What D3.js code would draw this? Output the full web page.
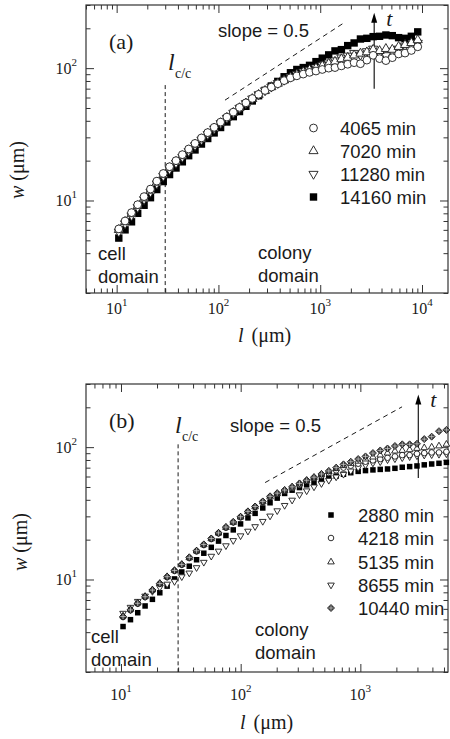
<!DOCTYPE html>
<html>
<head>
<meta charset="utf-8">
<script src="https://cdn.jsdelivr.net/npm/d3@7"></script>
<style>
  html, body { margin: 0; padding: 0; background: #fff; }
  svg { display: block; }
  .sans { font-family: "Liberation Sans", Arial, Helvetica, sans-serif; fill: #1a1a1a; }
  .serif { font-family: "Liberation Serif", "Times New Roman", Times, serif; fill: #1a1a1a; }
</style>
</head>
<body>
<svg id="chart" width="450" height="739"></svg>
<script>
// ---------- Panel (a): interface width w versus window size l ----------
const lA = [10.5, 12.1, 14.0, 16.1, 18.6, 21.5, 24.8, 28.7, 33.1, 38.3,
            44.2, 51.0, 58.9, 68.1, 78.5, 90.8, 105, 121, 140, 161,
            186, 215, 248, 287, 331, 383, 442, 510, 589, 681,
            785, 908, 1047, 1211, 1396, 1614, 1862, 2153, 2483, 2871,
            3311, 3828, 4416, 5105, 5888, 6808, 7852, 9078];
const wA4065 = [6.1, 7.0, 8.1, 9.3, 10.7, 12.2, 14.0, 16.0, 18.0, 20.0,
                22.2, 24.5, 27.0, 29.7, 32.6, 35.7, 39.1, 42.7, 46.5, 50.5,
                54.7, 59.0, 63.4, 67.8, 71.9, 76.2, 80.5, 84.5, 87.5, 90.2,
                92.9, 95.1, 97.7, 100, 101, 104, 107, 110, 108, 115,
                125, 118, 114, 120, 128, 130, 136, 145];
const wA7020 = [6.0, 6.9, 7.9, 9.1, 10.4, 11.9, 13.7, 15.6, 17.6, 19.6,
                21.7, 24.0, 26.5, 29.1, 32.0, 35.1, 38.5, 42.2, 46.0, 50.0,
                54.2, 58.6, 63.0, 67.5, 72.0, 76.5, 81.0, 85.5, 89.5, 93.5,
                97.0, 100, 104, 108, 112, 117, 120, 125, 129, 132,
                138, 135, 140, 138, 145, 150, 155, 163];
const wA11280 = [5.8, 6.7, 7.7, 8.9, 10.2, 11.6, 13.4, 15.3, 17.2, 19.2,
                 21.3, 23.6, 26.1, 28.8, 31.7, 34.9, 38.3, 42.0, 45.9, 50.0,
                 54.3, 58.8, 63.3, 67.8, 72.3, 77.0, 81.5, 86, 90, 94,
                 97, 101, 105, 110, 114, 120, 124, 130, 126, 134,
                 140, 130, 125, 135, 140, 148, 150, 155];
const wA14160 = [5.2, 6.0, 6.9, 8.0, 9.2, 10.5, 12.1, 13.9, 15.7, 17.6,
                 19.6, 21.8, 24.1, 26.7, 29.4, 32.4, 35.6, 39.2, 43.0, 47.0,
                 51.5, 56.5, 61.9, 67.9, 73.3, 79.4, 86.1, 92.3, 97.7, 101,
                 105, 112, 119, 126, 135, 138, 148, 155, 166, 168,
                 173, 174, 178, 176, 170, 168, 174, 188];
const labelsA = ["4065 min", "7020 min", "11280 min", "14160 min"];

// ---------- Panel (b) ----------
const lB = [10.4, 12.0, 13.8, 15.9, 18.3, 21.1, 24.3, 28.0, 32.2, 37.2,
            42.8, 49.2, 56.8, 65.3, 75.3, 86.7, 99.8, 115, 132, 153,
            176, 202, 233, 269, 310, 356, 410, 473, 545, 628,
            723, 832, 959, 1104, 1274, 1466, 1687, 1945, 2239, 2582,
            2972, 3420, 3945, 4539, 5236];
const wB2880 = [4.41, 4.97, 5.61, 6.31, 7.08, 7.94, 8.91, 10.1, 11.4, 12.6,
                14.1, 15.8, 17.5, 19.5, 21.5, 23.7, 26.3, 29.2, 31.6, 34.7,
                38.0, 41.2, 44.7, 47.3, 49.5, 51.9, 54.3, 56.5, 58.6, 60.5,
                62.4, 64.1, 65.6, 66.5, 67.3, 67.9, 68.4, 69.2, 70.5, 71.3,
                72.1, 73.5, 74.6, 75.5, 76.7];
const wB4218 = [5.2, 5.85, 6.55, 7.35, 8.25, 9.25, 10.4, 11.6, 12.9, 14.5,
                16.3, 18.2, 20.2, 22.3, 24.6, 27.0, 29.5, 32.4, 35.2, 38.4,
                41.8, 44.2, 46.6, 49.2, 52.0, 55.6, 58.2, 61.0, 63.8, 66.8,
                70.0, 72.4, 75.0, 77.6, 79.4, 81.3, 83.2, 85.1, 87.1, 87.1,
                89.1, 90.2, 91.2, 91.2, 92.3];
const wB5135 = [5.3, 5.95, 6.65, 7.45, 8.35, 9.35, 10.5, 11.7, 13.0, 14.6,
                16.4, 18.3, 20.3, 22.4, 24.7, 27.0, 29.6, 32.5, 35.4, 38.6,
                42.0, 44.5, 47.0, 49.8, 52.8, 56.0, 58.9, 62.1, 65.3, 68.9,
                72.4, 75.3, 78.2, 81.3, 84.1, 87.1, 90.2, 93.3, 94.4, 95.5,
                97.7, 98.9, 100, 102, 105];
const wB8655 = [5.56, 6.17, 6.84, 7.50, 8.13, 8.71, 9.23, 9.66, 10.5, 11.2,
                12.3, 13.5, 15.0, 16.4, 18.0, 19.7, 21.4, 23.2, 25.1, 27.5,
                30.2, 33.1, 36.3, 39.8, 43.7, 46.8, 50.1, 53.1, 56.2, 59.6,
                62.4, 66.1, 70.0, 73.3, 75.9, 77.6, 80.4, 81.7, 83.2, 84.7,
                86.1, 87.1, 87.7, 88.3, 89.1];
const wB10440 = [5.25, 5.89, 6.61, 7.41, 8.32, 9.33, 10.5, 11.7, 13.0, 14.7,
                 16.5, 18.4, 20.4, 22.5, 24.9, 27.2, 29.8, 32.7, 35.6, 38.9,
                 42.5, 44.9, 47.4, 50.1, 53.2, 56.2, 59.3, 62.7, 66.1, 70.0,
                 74.1, 77.6, 81.3, 85.1, 90.2, 94.4, 97.7, 102, 105, 105,
                 106, 115, 120, 132, 135];
const labelsB = ["2880 min", "4218 min", "5135 min", "8655 min", "10440 min"];

// Annotations (data coordinates)
const lCrossover = 30;                       // l_c/c
const slopeA = { l: [116, 1760], w: [57.3, 223] };
const slopeB = { l: [160, 2230], w: [54, 201.6] };
const arrowA = { l: 3390, w: [70, 262] };
const arrowB = { l: 3050, w: [58.5, 250] };

const svg = d3.select("#chart");
const ink = "#1a1a1a";

// ---------- marker symbols ----------
function marker(g, kind, big) {
  const s = big ? 1 : 0.72;
  if (kind === "circle") {
    g.append("circle").attr("r", 3.9 * s).attr("fill", "#fff").attr("stroke", ink).attr("stroke-width", big ? 0.9 : 0.9);
  } else if (kind === "up" || kind === "down") {
    const p = d3.symbol(d3.symbolTriangle, (big ? 36 : 19))();
    g.append("path").attr("d", p).attr("transform", kind === "down" ? "rotate(180)" : null)
      .attr("fill", "#fff").attr("stroke", ink).attr("stroke-width", 0.9);
  } else if (kind === "square") {
    const a = big ? 7.4 : 5.5;
    g.append("rect").attr("x", -a / 2).attr("y", -a / 2).attr("width", a).attr("height", a).attr("fill", "#000");
  } else if (kind === "diamond") {
    const r = 3.5;
    g.append("path").attr("d", `M0,${-r}L${r},0L0,${r}L${-r},0Z`).attr("fill", "#3a3a3a").attr("stroke", "#111").attr("stroke-width", 0.8);
    g.append("path").attr("d", `M0,${-r + 0.8}V${r - 0.8}M${-r + 0.8},0H${r - 0.8}`).attr("stroke", "#cfcfcf").attr("stroke-width", 0.7);
  }
}

// ---------- panel frame, ticks, labels ----------
function panel(p) {
  const x = d3.scaleLog().domain(p.xDomain).range([p.x0, p.x1]);
  const y = d3.scaleLog().domain([2, 300]).range([p.y1, p.y0]);
  const isMajor = v => Math.abs(Math.log10(v) - Math.round(Math.log10(v))) < 1e-9;
  const xt = x.ticks(), yt = y.ticks();
  const xMaj = xt.filter(isMajor), xMin = xt.filter(v => !isMajor(v));
  const yMaj = yt.filter(isMajor), yMin = yt.filter(v => !isMajor(v));
  const g = svg.append("g");

  const axes = [
    [d3.axisBottom(x), `translate(0,${p.y1})`, xMaj, xMin],
    [d3.axisTop(x), `translate(0,${p.y0})`, xMaj, xMin],
    [d3.axisLeft(y), `translate(${p.x0},0)`, yMaj, yMin],
    [d3.axisRight(y), `translate(${p.x1},0)`, yMaj, yMin]
  ];
  axes.forEach(([ax, tr, maj, min]) => {
    [[maj, 8], [min, 4.5]].forEach(([vals, len]) => {
      const a = g.append("g").attr("transform", tr)
        .call(ax.tickValues(vals).tickSize(-len).tickFormat(""));
      a.select(".domain").remove();
      a.selectAll("line").attr("stroke", "#333").attr("stroke-width", 1);
    });
  });
  g.append("rect").attr("x", p.x0).attr("y", p.y0)
    .attr("width", p.x1 - p.x0).attr("height", p.y1 - p.y0)
    .attr("fill", "none").attr("stroke", "#333").attr("stroke-width", 1.2);

  // decade labels 10^n
  xMaj.forEach(v => {
    const t = g.append("text").attr("class", "serif").attr("x", x(v)).attr("y", p.y1 + p.xLabelGap)
      .attr("text-anchor", "middle").attr("font-size", 16);
    t.append("tspan").text("10");
    t.append("tspan").attr("dy", -8).attr("font-size", 11).text(Math.round(Math.log10(v)));
  });
  yMaj.forEach(v => {
    const t = g.append("text").attr("class", "serif").attr("x", p.x0 - 9).attr("y", y(v) + 6)
      .attr("text-anchor", "end").attr("font-size", 16);
    t.append("tspan").text("10");
    t.append("tspan").attr("dy", -8).attr("font-size", 11).text(Math.round(Math.log10(v)));
  });

  // axis titles
  const xt1 = g.append("text").attr("class", "serif").attr("x", p.xTitle[0]).attr("y", p.xTitle[1]).attr("font-size", 20);
  xt1.append("tspan").attr("font-style", "italic").text("l");
  xt1.append("tspan").attr("dx", 8).text("(μm)");
  const yt1 = g.append("text").attr("class", "serif").attr("font-size", 20)
    .attr("transform", `translate(${p.yTitle[0]},${p.yTitle[1]}) rotate(-90)`);
  yt1.append("tspan").attr("font-style", "italic").text("w");
  yt1.append("tspan").attr("dx", 5).text("(μm)");

  return { g, x, y };
}

function annotate(P, p, a) {
  const { g, x, y } = P;
  // crossover length l_c/c
  g.append("line").attr("x1", x(lCrossover)).attr("x2", x(lCrossover))
    .attr("y1", y(a.lcTop)).attr("y2", p.y1)
    .attr("stroke", ink).attr("stroke-width", 1).attr("stroke-dasharray", "4,3");
  g.append("text").attr("class", "serif").attr("font-style", "italic").attr("font-size", 24)
    .attr("x", a.lc[0]).attr("y", a.lc[1]).text("l");
  g.append("text").attr("class", "serif").attr("font-size", 14)
    .attr("x", a.lc[0] + 7).attr("y", a.lc[1] + 8).text("c/c");
  // slope guide
  g.append("line").attr("x1", x(a.slope.l[0])).attr("y1", y(a.slope.w[0]))
    .attr("x2", x(a.slope.l[1])).attr("y2", y(a.slope.w[1]))
    .attr("stroke", ink).attr("stroke-width", 1).attr("stroke-dasharray", "5,4");
  g.append("text").attr("class", "sans").attr("font-size", 18.5)
    .attr("x", a.slopeText[0]).attr("y", a.slopeText[1]).text("slope = 0.5");
  // time arrow
  const ax = x(a.arrow.l), yb = y(a.arrow.w[0]), ytp = y(a.arrow.w[1]);
  g.append("line").attr("x1", ax).attr("x2", ax).attr("y1", yb).attr("y2", ytp + 8)
    .attr("stroke", ink).attr("stroke-width", 1.2);
  g.append("path").attr("d", `M${ax},${ytp}L${ax - 3},${ytp + 10}L${ax + 3},${ytp + 10}Z`).attr("fill", "#000");
  g.append("text").attr("class", "serif").attr("font-style", "italic").attr("font-size", 22)
    .attr("x", ax + 12).attr("y", ytp + 13).text("t");
  // panel tag and domain names
  g.append("text").attr("class", "serif").attr("font-size", 22)
    .attr("x", a.tag[0]).attr("y", a.tag[1]).text(a.tagText);
  [["cell", a.cell[0], a.cell[1]], ["domain", a.cell[0], a.cell[1] + 23],
   ["colony", a.colony[0], a.colony[1]], ["domain", a.colony[0], a.colony[1] + 23]]
    .forEach(([t, tx, ty]) => g.append("text").attr("class", "sans").attr("font-size", 18.5)
      .attr("x", tx).attr("y", ty).text(t));
}

function series(P, ls, ws, kind, big) {
  ls.forEach((l, i) => {
    const m = P.g.append("g").attr("transform", `translate(${P.x(l)},${P.y(ws[i])})`);
    marker(m, kind, big);
  });
}

function legend(P, items, lx, tx, rows, big) {
  items.forEach(([label, kind], i) => {
    const m = P.g.append("g").attr("transform", `translate(${lx},${rows[i]})`);
    marker(m, kind, big);
    P.g.append("text").attr("class", "sans").attr("font-size", 18.5)
      .attr("x", tx).attr("y", rows[i] + 6.5).text(label);
  });
}

// ----- panel (a) -----
const pA = { x0: 86, x1: 448, y0: 5, y1: 293, xDomain: [5, 18000], xLabelGap: 21, xTitle: [238, 342], yTitle: [24, 199] };
const PA = panel(pA);
annotate(PA, pA, {
  lcTop: 74.5, lc: [168, 70], slope: slopeA, slopeText: [218, 37], arrow: arrowA,
  tag: [109, 49], tagText: "(a)", cell: [98, 260], colony: [258, 259]
});
series(PA, lA, wA14160, "square", true);
series(PA, lA, wA11280, "down", true);
series(PA, lA, wA7020, "up", true);
series(PA, lA, wA4065, "circle", true);
legend(PA, [[labelsA[0], "circle"], [labelsA[1], "up"], [labelsA[2], "down"], [labelsA[3], "square"]],
  313.5, 340, [128, 151, 174, 197], true);

// ----- panel (b) -----
const pB = { x0: 86, x1: 448, y0: 384, y1: 672, xDomain: [5.1, 5400], xLabelGap: 28, xTitle: [240, 729], yTitle: [27, 571] };
const PB = panel(pB);
annotate(PB, pB, {
  lcTop: 105, lc: [175, 433], slope: slopeB, slopeText: [230, 432], arrow: arrowB,
  tag: [109, 428], tagText: "(b)", cell: [91, 643], colony: [255, 636]
});
series(PB, lB, wB2880, "square", false);
series(PB, lB, wB8655, "down", false);
series(PB, lB, wB4218, "circle", false);
series(PB, lB, wB5135, "up", false);
series(PB, lB, wB10440, "diamond", false);
legend(PB, [[labelsB[0], "square"], [labelsB[1], "circle"], [labelsB[2], "up"], [labelsB[3], "down"], [labelsB[4], "diamond"]],
  331, 358, [515, 538, 562, 585, 608], false);
</script>
</body>
</html>
